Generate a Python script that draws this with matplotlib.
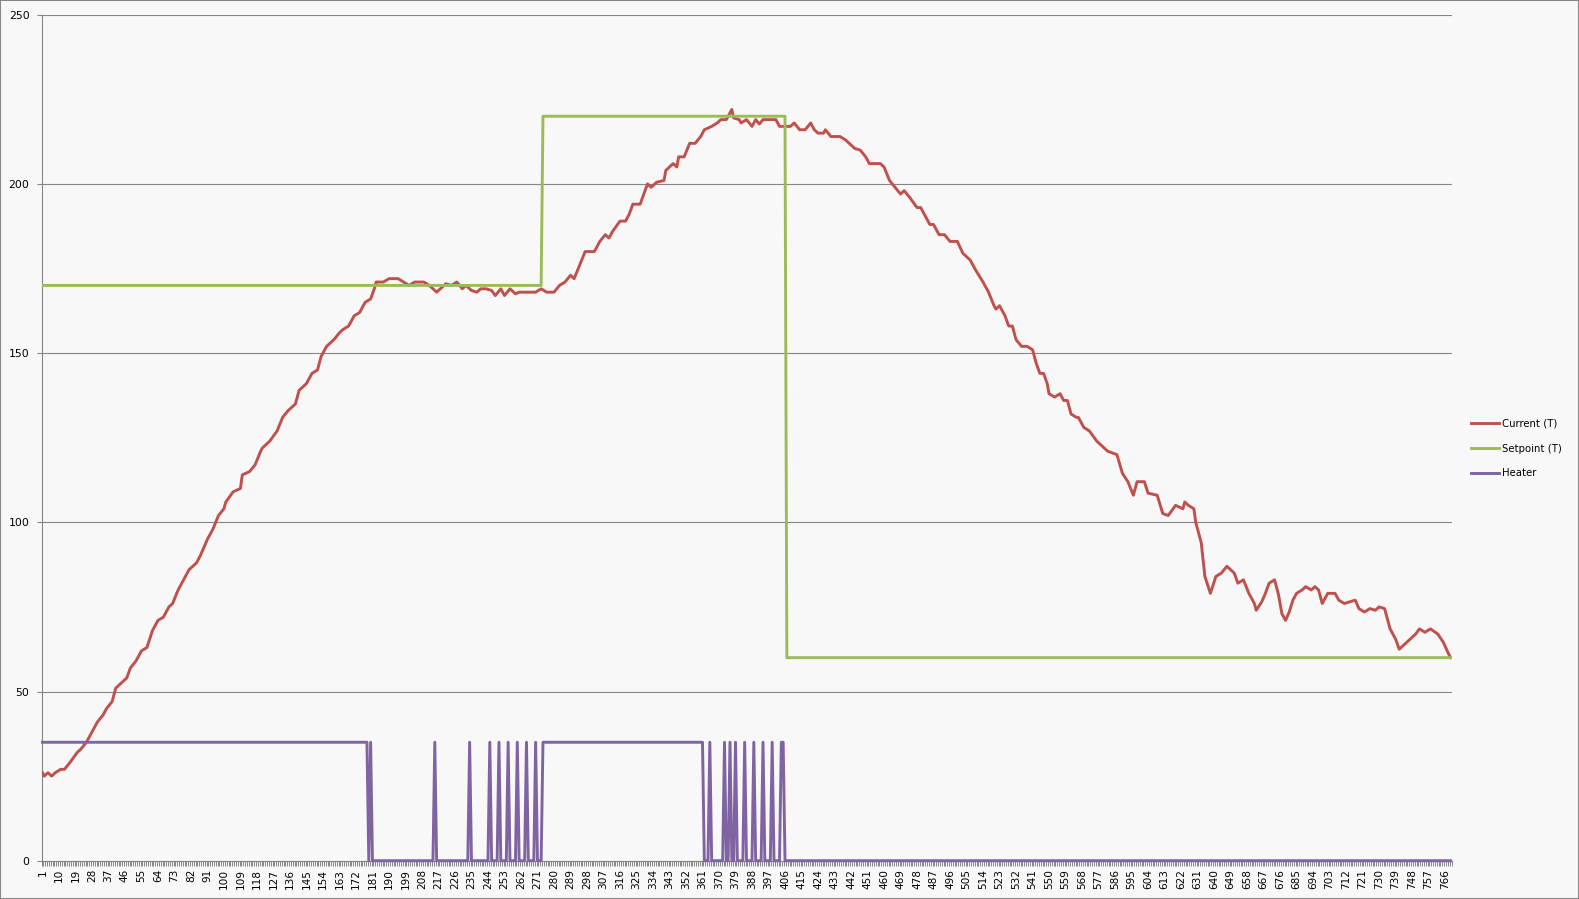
import numpy as np
import matplotlib.pyplot as plt
from matplotlib.patches import Rectangle

n_samples = 769

# Current (T): sample number -> temperature
current_idx = [1, 2, 4, 6, 8, 11, 13, 16, 20, 22, 25, 28, 31, 34, 36, 39, 41, 43, 47, 49,
               52, 55, 58, 61, 64, 67, 70, 72, 75, 78, 81, 85,
               87, 91, 94, 97, 100, 101, 105, 109, 110, 114, 117, 120, 121, 125, 129, 132,
               135, 139, 141, 145, 148, 151, 153, 156, 160, 163, 165, 168, 171, 174, 177,
               180, 182, 183,
               187, 190, 192, 195, 198, 201, 204, 209, 212, 216, 219, 221, 224, 227, 230,
               232, 235, 238, 240, 243, 246, 248, 251, 253, 256, 259, 261, 267, 270, 273,
               276, 280,
               283, 286, 289, 291, 294, 297, 302, 305, 308, 310, 312, 316, 319, 321, 323,
               327, 329, 331, 333, 336, 340, 341, 345, 347, 348, 351, 354, 357, 360, 362,
               366, 369, 371, 374, 377, 378, 381,
               382, 385, 388, 390, 392, 394, 401, 403, 406, 409, 411, 414, 417, 420, 422,
               424, 427, 428, 431, 436, 439, 441, 444, 447, 450, 452, 458,
               460, 463, 466, 469, 471, 474, 478, 480, 482, 485, 487, 490, 493, 496, 500,
               503, 507, 510, 514, 517, 520, 521, 523, 526, 528, 530, 532, 535, 538, 541,
               543, 545, 547, 549, 550, 553, 556, 558, 560, 562, 565, 566, 569,
               572, 576, 582, 587, 590, 593, 596, 598, 602, 604, 609, 612, 615, 619, 623,
               624, 626, 629, 630, 633, 635, 638, 641, 644, 647, 651, 653, 656, 659, 662,
               663, 666, 668, 670, 673, 675, 677, 679, 681, 683, 685, 688, 690, 693, 695,
               697, 699, 702, 706, 708, 711, 714, 717, 719, 722, 725, 728, 730, 733, 736,
               739, 741, 744, 747, 750, 752, 755, 758, 762, 765, 768, 769]
current_val = [26, 25, 26, 25, 26, 27, 27, 29, 32, 33, 35, 38, 41, 43, 45, 47, 51, 52, 54, 57,
               59, 62, 63, 68, 71, 72, 75, 76, 80, 83, 86, 88,
               90, 95, 98, 102, 104, 106, 109, 110, 114, 115, 117, 121, 122, 124, 127, 131,
               133, 135, 139, 141, 144, 145, 149, 152, 154, 156, 157, 158, 161, 162, 165,
               166, 169, 171,
               171, 172, 172, 172, 171, 170, 171, 171, 170, 168, 169.5, 170.5, 170, 171, 169,
               170, 168.5, 168, 169, 169, 168.5, 167, 169, 167, 169, 167.5, 168, 168, 168, 169,
               168, 168,
               170, 171, 173, 172, 176, 180, 180, 183, 185, 184, 186, 189, 189, 191, 194,
               194, 197, 200, 199, 200.5, 201, 204, 206, 205, 208, 208, 212, 212, 214, 216,
               217, 218, 219, 219, 222, 219.5, 219,
               218, 219, 217, 219, 217.7, 219, 219, 217, 217, 217, 218, 216, 216, 218, 216,
               215, 215, 216, 214, 214, 213, 212, 210.5, 210, 208, 206, 206,
               205, 201, 199, 197, 198, 196, 193, 193, 191, 188, 188, 185, 185, 183, 183,
               179.5, 177.5, 174.5, 171, 168, 164, 163, 164, 161, 158, 158, 154, 152, 152, 151,
               147, 144, 144, 141, 138, 137, 138, 136, 136, 132, 131, 131, 128,
               127, 124, 121, 120, 114.5, 112, 108, 112, 112, 108.6, 108, 102.6, 102, 105, 104,
               106, 105, 104, 100, 94, 84, 79, 84, 85, 87, 85, 82, 83, 79, 76,
               74, 76.5, 79, 82, 83, 79, 73, 71, 73.5, 77, 79, 80, 81, 80, 81,
               80, 76, 79, 79, 77, 76, 76.5, 77, 74.5, 73.5, 74.5, 74, 75, 74.5, 68.5,
               65.5, 62.5, 64, 65.5, 67, 68.5, 67.5, 68.5, 67, 64.6, 61, 60]

# Setpoint (T): sample where each level starts
setpoint_starts = [1, 274, 407]
setpoint_levels = [170, 220, 60]

# Heater: sample ranges where it is on
heater_level = 35
heater_on = [(1, 178), (180, 180), (215, 215), (234, 234), (245, 245), (250, 250),
             (255, 255), (260, 260), (265, 265), (270, 270), (274, 361), (365, 365),
             (373, 373), (376, 376), (379, 379), (384, 384), (389, 389), (394, 394),
             (399, 399), (404, 405)]

samples = np.arange(1, n_samples + 1)
setpoint = np.zeros(n_samples)
for start, level in zip(setpoint_starts, setpoint_levels):
    setpoint[start - 1:] = level
heater = np.zeros(n_samples)
for a, b in heater_on:
    heater[a - 1:b] = heater_level

bg = '#f8f8f8'
grey = '#868686'

W, H = 1579, 899
fig = plt.figure(figsize=(W / 100, H / 100), dpi=100, facecolor=bg)
ax = fig.add_axes([41.5 / W, 1 - 860.7 / H, 1410 / W, 846 / H])
ax.set_facecolor(bg)

ax.plot(current_idx, current_val, color='#c0504d', lw=2.1, zorder=3, label='Current (T)')
ax.plot(samples, setpoint, color='#9bbb59', lw=2.1, zorder=4, label='Setpoint (T)')
ax.plot(samples, heater, color='#8064a2', lw=2.1, zorder=5, clip_on=False, label='Heater')

ax.set_xlim(0.5, n_samples + 0.5)
ax.set_ylim(0, 250)
ax.set_yticks(range(0, 251, 50))
ax.yaxis.grid(True, color=grey, lw=0.8)
ax.set_axisbelow(True)

xt = list(range(1, n_samples + 1, 9))
ax.set_xticks(xt)
ax.set_xticklabels([str(v) for v in xt], rotation=90, va='top', ha='center')
ax.set_xticks(np.arange(0.5, n_samples + 1, 1), minor=True)
ax.tick_params(axis='x', which='major', length=0, pad=6, labelsize=7.6)
ax.tick_params(axis='x', which='minor', length=3.5, width=0.7, color=grey)
ax.tick_params(axis='y', length=3.6, width=0.8, color=grey, pad=5, labelsize=7.8)

for s in ['top', 'right']:
    ax.spines[s].set_visible(False)
for s in ['left', 'bottom']:
    ax.spines[s].set_color(grey)
    ax.spines[s].set_linewidth(0.8)

fig.legend(loc='center left', bbox_to_anchor=(1471 / W, 1 - 448.5 / H), frameon=False,
           fontsize=7.3, handlelength=2.8, handletextpad=0.3, labelspacing=1.45,
           borderpad=0, borderaxespad=0)

fig.patches.append(Rectangle((0, 0), 1, 1, transform=fig.transFigure, fill=False,
                             edgecolor=grey, lw=1.5))

fig.savefig('out.png', dpi=100, facecolor=bg)
